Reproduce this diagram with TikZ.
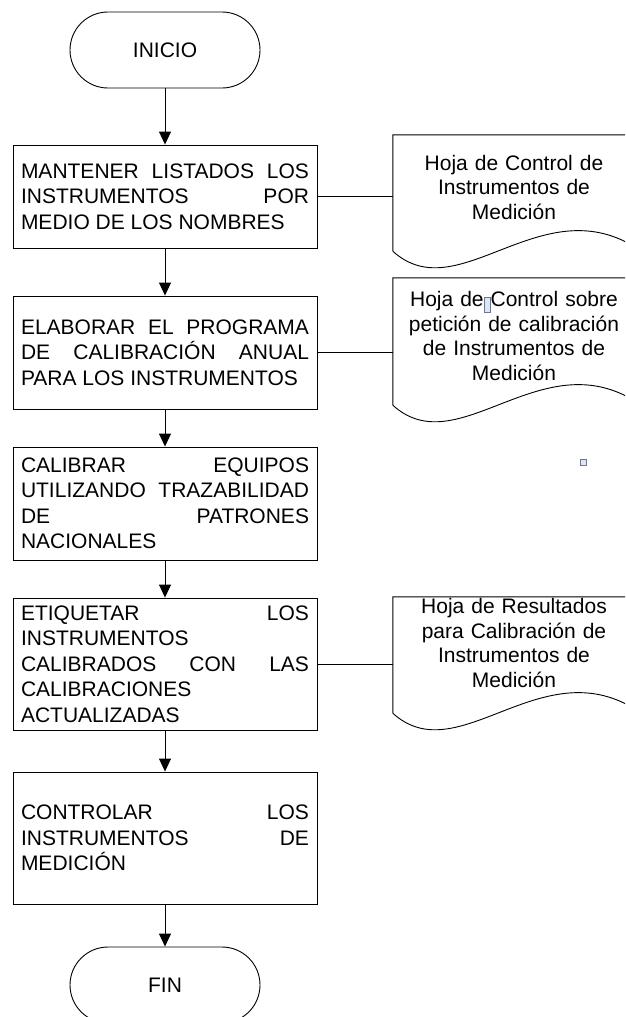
\documentclass[tikz,border=0pt]{standalone}
\usepackage{fontspec}
\setmainfont{Liberation Sans}
\usetikzlibrary{arrows.meta, calc}
\definecolor{mydark}{RGB}{0,0,0}
\definecolor{hdlfill}{RGB}{222,230,242}
\definecolor{hdldraw}{RGB}{110,120,140}
\newcommand\boxfont{\fontsize{21}{25.5}\selectfont\hyphenpenalty=10000\tolerance=10000\hbadness=10000}
\newcommand\docfont{\fontsize{21}{24.5}\selectfont}
% document outline around a docnode: #2, #3 = drop of the wave ends below the node
\newcommand\docwave[3]{%
  \draw[line] ($(#1.south west)+(0,#2)$) -- (#1.north west) -- (#1.north east)
    -- ($(#1.south east)+(0,#3)$)
    .. controls ($(#1.south east)+(-95,#3-59)$) and ($(#1.south west)+(65,#2+59)$)
    .. ($(#1.south west)+(0,#2)$);}
\tikzset{
  procbox/.style={rectangle, draw=mydark, minimum width=304, text width=288,
    inner xsep=8, align=justify, font=\boxfont, line width=0.9pt},
  termnode/.style={rectangle, draw=mydark, rounded corners=38, minimum width=190,
    minimum height=76, inner sep=0, font=\boxfont, line width=0.9pt},
  docnode/.style={rectangle, minimum width=242, text width=230, inner sep=0,
    align=center, font=\docfont},
  handle/.style={draw=hdldraw, fill=hdlfill, line width=0.6pt},
  arrow/.style={-{Triangle[length=13,width=12]}, line width=0.9pt, color=mydark},
  line/.style={line width=0.9pt, color=mydark}
}
\begin{document}
\begin{tikzpicture}[x=1pt, y=-1pt]
  \useasboundingbox (0,0) rectangle (625,1017);
  \clip (0,0) rectangle (625,1017);
  % main column
  \node[termnode] (inicio) at (165,50) {INICIO};
  \node[procbox, minimum height=103] (listar) at (165,196.5)
       {MANTENER LISTADOS LOS\linebreak INSTRUMENTOS POR\linebreak MEDIO DE LOS NOMBRES};
  \node[procbox, minimum height=113] (programa) at (165,352.5)
       {ELABORAR EL PROGRAMA\linebreak DE CALIBRACIÓN ANUAL\linebreak PARA LOS INSTRUMENTOS};
  \node[procbox, minimum height=113] (calibrar) at (165,503.5)
       {CALIBRAR EQUIPOS\linebreak UTILIZANDO TRAZABILIDAD\linebreak DE PATRONES\linebreak NACIONALES};
  \node[procbox, minimum height=132] (etiquetar) at (165,664)
       {ETIQUETAR LOS\linebreak INSTRUMENTOS\linebreak CALIBRADOS CON LAS\linebreak CALIBRACIONES\linebreak ACTUALIZADAS};
  \node[procbox, minimum height=132] (controlar) at (165,838)
       {CONTROLAR LOS\linebreak INSTRUMENTOS DE\linebreak MEDICIÓN};
  \node[termnode] (fin) at (165,985) {FIN};
  \draw[arrow] (inicio) -- (listar);
  \draw[arrow] (listar) -- (programa);
  \draw[arrow] (programa) -- (calibrar);
  \draw[arrow] (calibrar) -- (etiquetar);
  \draw[arrow] (etiquetar) -- (controlar);
  \draw[arrow] (controlar) -- (fin);
  % documents
  \node[docnode, minimum height=104] (hoja1) at (514,187)
       {Hoja de Control de\\ Instrumentos de\\ Medición};
  \node[docnode, minimum height=116] (hoja2) at (514,336)
       {Hoja de Control sobre\\ petición de calibración\\ de Instrumentos de\\ Medición};
  \node[docnode, minimum height=92] (hoja3) at (514,643)
       {Hoja de Resultados\\ para Calibración de\\ Instrumentos de\\ Medición};
  \docwave{hoja1}{12}{8}
  \docwave{hoja2}{11}{7}
  \docwave{hoja3}{24}{20}
  \draw[line] (listar.east) -- (listar.east -| hoja1.west);
  \draw[line] (programa.east) -- (programa.east -| hoja2.west);
  \draw[line] (etiquetar.east) -- (etiquetar.east -| hoja3.west);
  % selection handles left in the drawing
  \draw[handle] (484,297) rectangle (490,312);
  \draw[handle] (580,459) rectangle (586,465);
\end{tikzpicture}
\end{document}
